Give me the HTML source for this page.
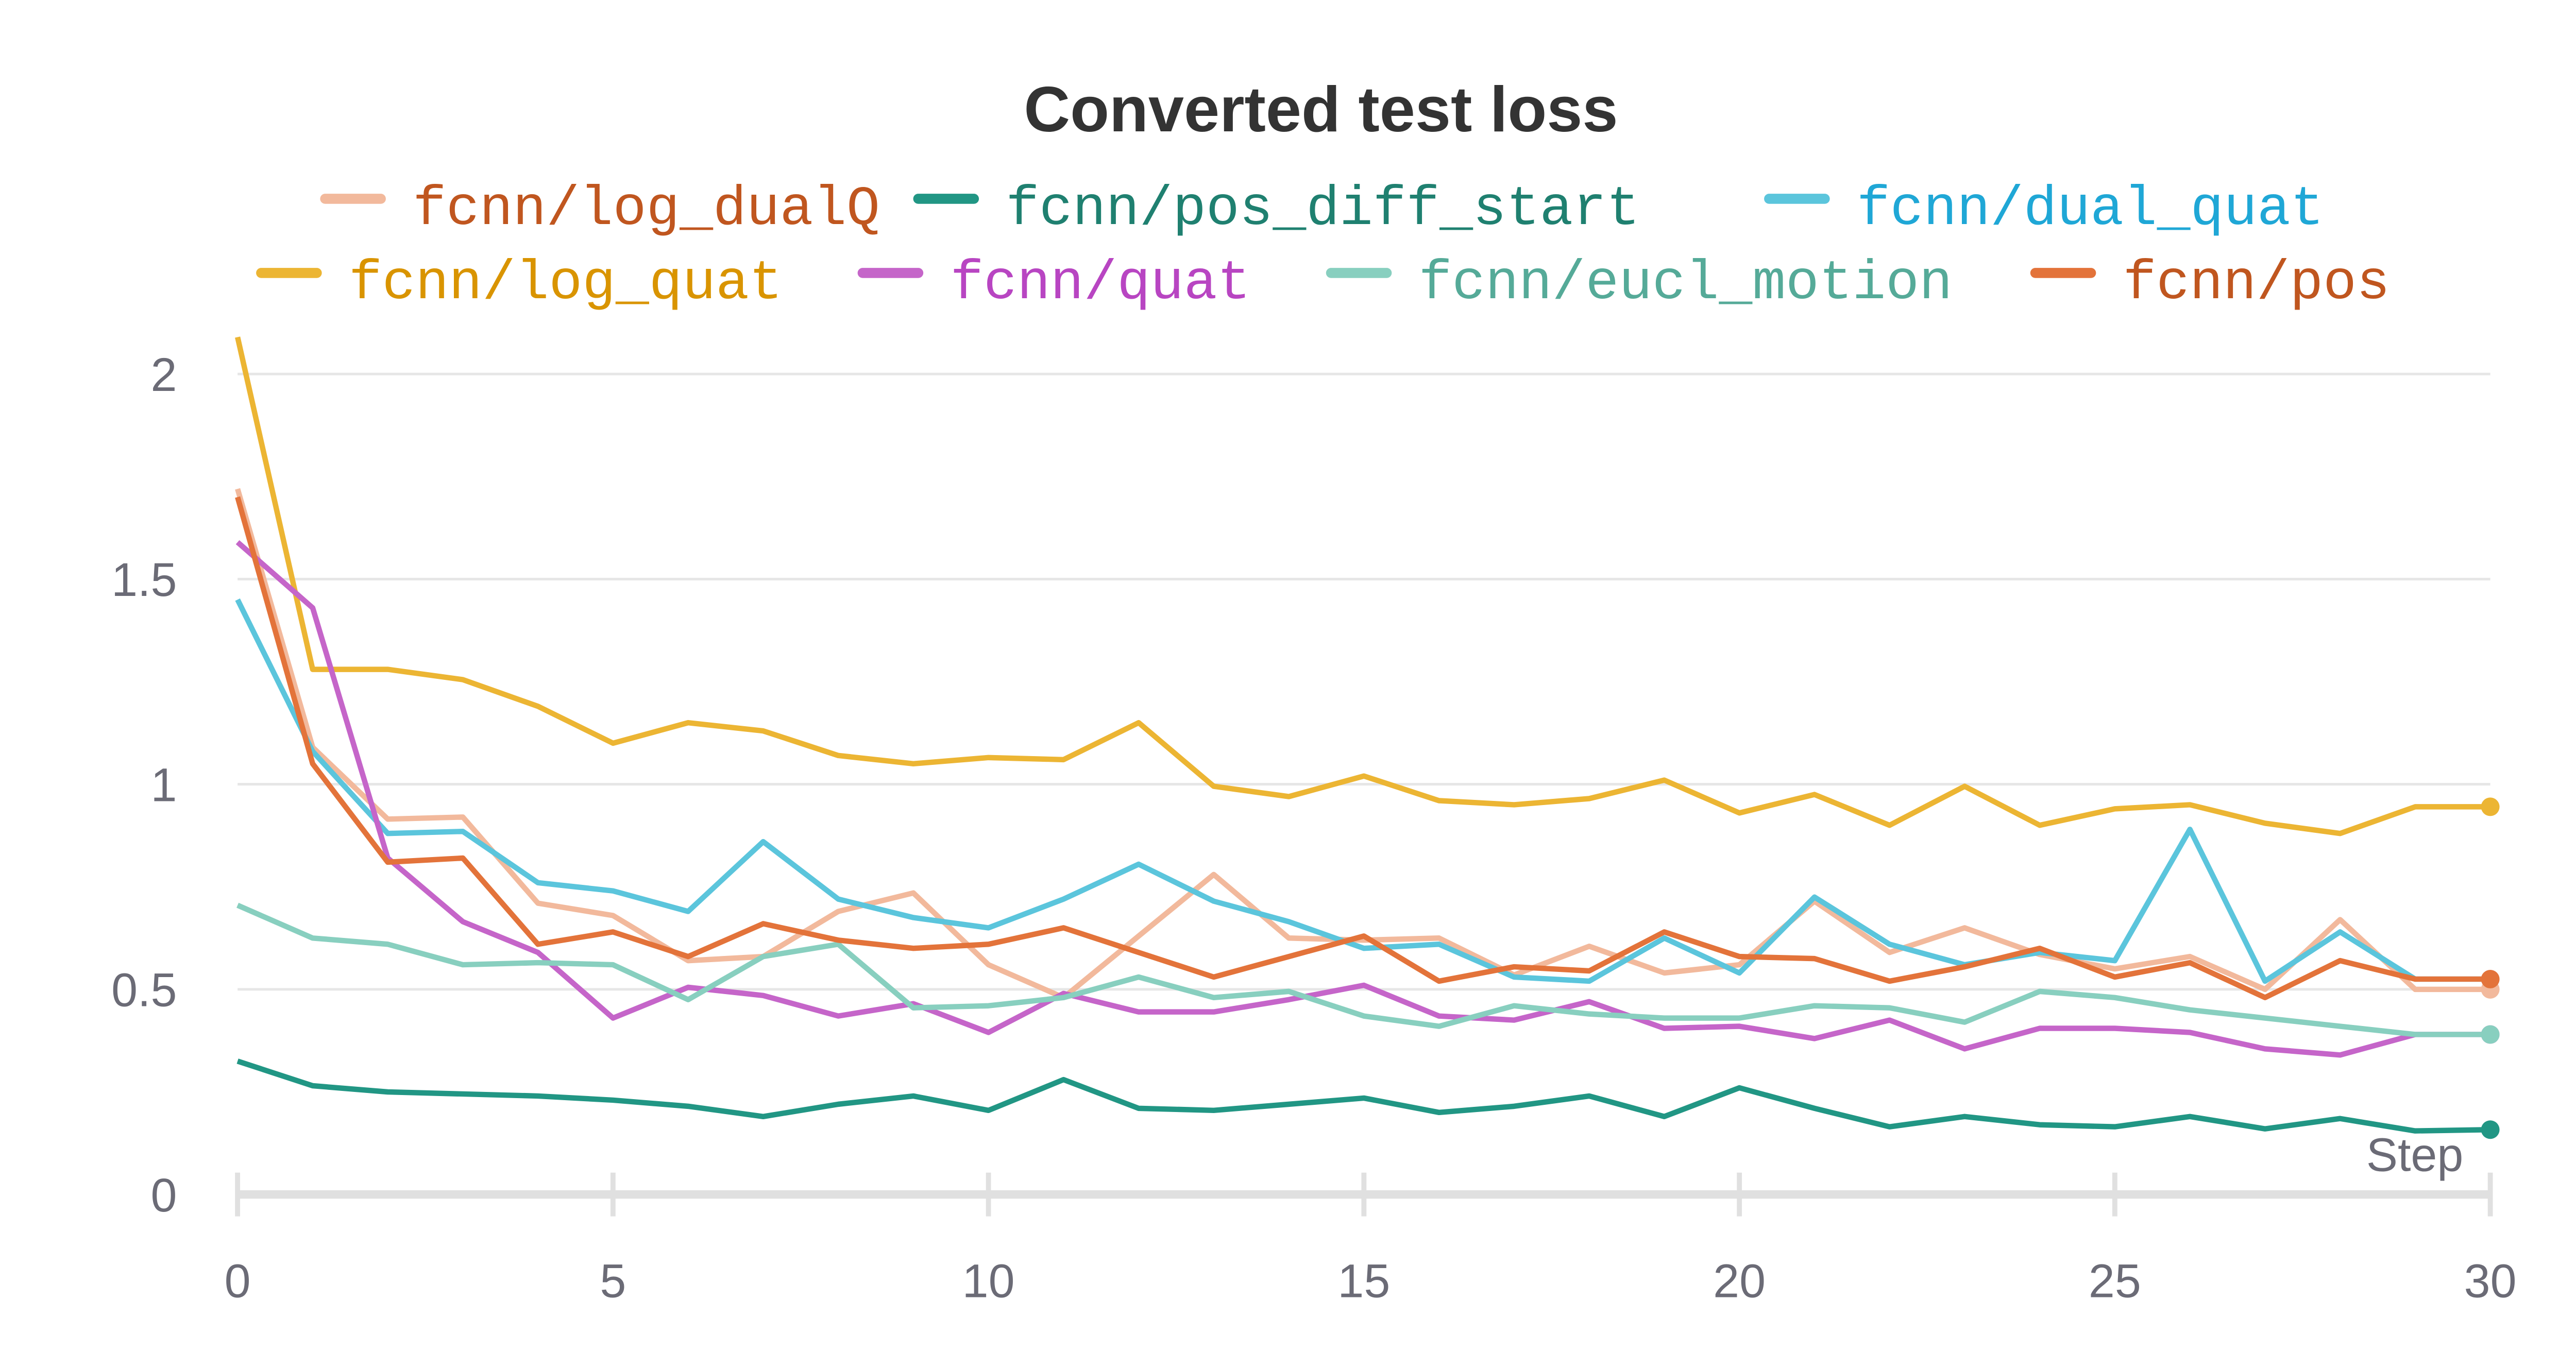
<!DOCTYPE html>
<html><head><meta charset="utf-8"><style>
html,body{margin:0;padding:0;background:#fff;}
svg{display:block;}
</style></head><body>
<svg id="chart" width="5056" height="2656" viewBox="0 0 1546 812" preserveAspectRatio="none" xmlns="http://www.w3.org/2000/svg">
<text x="784" y="78" text-anchor="middle" font-family="Liberation Sans, sans-serif" font-weight="bold" font-size="38" fill="#333">Converted test loss</text>
<g id="legend"></g>
<g id="grid"></g>
<g id="axes"></g>
<g id="series"></g>
</svg>
<script>
const steps = Array.from({length:31},(_, i)=>i);
const logDualQ = [1.72,1.09,0.915,0.92,0.71,0.68,0.57,0.58,0.69,0.735,0.56,0.48,0.63,0.78,0.625,0.62,0.625,0.535,0.605,0.54,0.56,0.715,0.59,0.65,0.585,0.55,0.58,0.50,0.67,0.50,0.50];
const posDiffStart = [0.325,0.265,0.25,0.245,0.24,0.23,0.215,0.19,0.22,0.24,0.205,0.28,0.21,0.205,0.22,0.235,0.20,0.215,0.24,0.19,0.26,0.21,0.165,0.19,0.17,0.165,0.19,0.16,0.185,0.155,0.158];
const dualQuat = [1.45,1.08,0.88,0.885,0.76,0.74,0.69,0.86,0.72,0.675,0.65,0.72,0.805,0.715,0.665,0.60,0.61,0.53,0.52,0.625,0.54,0.725,0.61,0.56,0.59,0.57,0.89,0.52,0.64,0.525,0.525];
const logQuat = [2.09,1.28,1.28,1.255,1.19,1.10,1.15,1.13,1.07,1.05,1.065,1.06,1.15,0.995,0.97,1.02,0.96,0.95,0.965,1.01,0.93,0.975,0.90,0.995,0.90,0.94,0.95,0.905,0.88,0.945,0.945];
const quat = [1.59,1.43,0.82,0.665,0.59,0.43,0.505,0.485,0.435,0.465,0.395,0.49,0.445,0.445,0.475,0.51,0.435,0.425,0.47,0.405,0.41,0.38,0.425,0.355,0.405,0.405,0.395,0.355,0.34,0.39,0.39];
const euclMotion = [0.705,0.625,0.61,0.56,0.565,0.56,0.475,0.58,0.61,0.455,0.46,0.48,0.53,0.48,0.495,0.435,0.41,0.46,0.44,0.43,0.43,0.46,0.455,0.42,0.495,0.48,0.45,0.43,0.41,0.39,0.39];
const pos = [1.70,1.05,0.81,0.82,0.61,0.64,0.58,0.66,0.62,0.60,0.61,0.65,0.59,0.53,0.58,0.63,0.52,0.555,0.545,0.64,0.58,0.575,0.52,0.555,0.60,0.53,0.565,0.48,0.57,0.525,0.525];
const yTicks = [0,0.5,1,1.5,2];
const yTickLabels = ["0","0.5","1","1.5","2"];
const xTicks = [0,5,10,15,20,25,30];

const NS="http://www.w3.org/2000/svg";
const X0=141,X1=1478,Y0=709,Y2=222;
const xs=v=>X0+(X1-X0)*v/30;
const ys=v=>Y0-(Y0-Y2)*v/2;
function mk(tag,attrs,parent,text){const e=document.createElementNS(NS,tag);for(const k in attrs)e.setAttribute(k,attrs[k]);if(text!==undefined)e.textContent=text;parent.appendChild(e);return e;}
const grid=document.getElementById('grid'),axes=document.getElementById('axes'),ser=document.getElementById('series'),leg=document.getElementById('legend');
const tf="Liberation Sans, sans-serif";
yTicks.forEach((t,i)=>{
  if(t>0){const l=mk('line',{x1:X0,x2:X1,y1:ys(t),y2:ys(t),stroke:'#e6e6e6','stroke-width':1.5},grid);
  
  }
  const tx=mk('text',{x:105,y:ys(t)+10,'text-anchor':'end','font-family':tf,'font-size':28,fill:'#6b6b76'},axes,yTickLabels[i]);
  
  
});
const base=mk('line',{x1:X0,x2:X1,y1:Y0,y2:Y0,stroke:'#e0e0e0','stroke-width':5},axes);


xTicks.forEach(t=>{
  const tk=mk('line',{x1:xs(t),x2:xs(t),y1:696,y2:722,stroke:'#e0e0e0','stroke-width':3},axes);
  
  
  const tx=mk('text',{x:xs(t),y:770,'text-anchor':'middle','font-family':tf,'font-size':28,fill:'#6b6b76'},axes,String(t));
  
  
});
const st=mk('text',{x:1462,y:695,'text-anchor':'end','font-family':tf,'font-size':28,fill:'#6b6b76'},axes,'Step');



const seriesDefs=[
 {name:'fcnn/log_dualQ',data:logDualQ,c:'#f2b99c',tc:'#c0561f',dot:true,lx:193,ly:118},
 {name:'fcnn/pos_diff_start',data:posDiffStart,c:'#219684',tc:'#1f8070',dot:true,lx:545,ly:118},
 {name:'fcnn/dual_quat',data:dualQuat,c:'#5bc5dc',tc:'#1fa7d6',dot:false,lx:1050,ly:118},
 {name:'fcnn/log_quat',data:logQuat,c:'#ecb533',tc:'#d99400',dot:true,lx:155,ly:162},
 {name:'fcnn/quat',data:quat,c:'#c565c9',tc:'#b845c2',dot:true,lx:512,ly:162},
 {name:'fcnn/eucl_motion',data:euclMotion,c:'#88cfbf',tc:'#55aa98',dot:true,lx:790,ly:162},
 {name:'fcnn/pos',data:pos,c:'#e3733a',tc:'#c0561f',dot:true,lx:1208,ly:162},
];
seriesDefs.forEach(s=>{
  const slug=s.name.replace('fcnn/','').replace(/_/g,'-');
  const d=s.data.map((v,i)=>(i?'L':'M')+xs(steps[i]).toFixed(2)+','+ys(v).toFixed(2)).join(' ');
  const p=mk('path',{d:d,fill:'none',stroke:s.c,'stroke-width':3.2,'stroke-linejoin':'round'},ser);
  
  
  if(s.dot){const n=s.data.length-1;
    const c=mk('circle',{cx:xs(steps[n]),cy:ys(s.data[n]),r:5.5,fill:s.c},ser);
    
    }
  const g=mk('g',{},leg);
  
  
  mk('line',{x1:s.lx,x2:s.lx+33,y1:s.ly,y2:s.ly,stroke:s.c,'stroke-width':6,'stroke-linecap':'round'},g);
  mk('text',{x:s.lx+52,y:s.ly+15,'font-family':'Liberation Mono, monospace','font-size':33,fill:s.tc},g,s.name);
});
</script>
</body></html>
